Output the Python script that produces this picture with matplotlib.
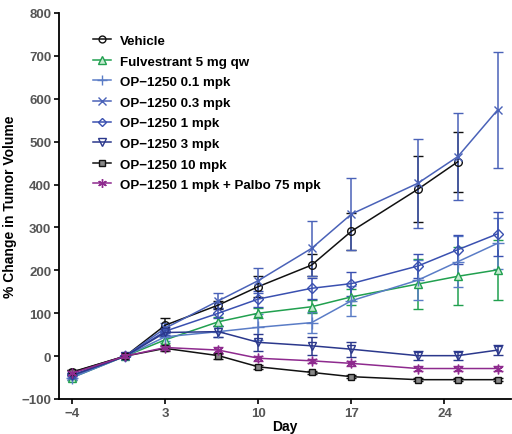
import matplotlib
matplotlib.use("Agg")
import matplotlib.pyplot as plt
from matplotlib.lines import Line2D

plt.rcParams['font.family'] = ['Liberation Sans', 'DejaVu Sans']

days = [-4, 0, 3, 7, 10, 14, 17, 22, 25, 28]

vehicle = [-37, 0, 72, 119, 162, 212, 291, 389, 453]
vehicle_err = [5, 0, 17, 10, 24, 25, 43, 77, 70]
fulv = [-50, 0, 38, 80, 100, 115, 138, 168, 186, 201]
fulv_err = [5, 0, 8, 10, 12, 15, 18, 58, 68, 70]
op01 = [-50, 0, 45, 57, 67, 78, 129, 177, 220, 263]
op01_err = [5, 0, 10, 12, 30, 25, 35, 47, 60, 60]
op03 = [-45, 0, 65, 129, 176, 251, 331, 403, 465, 574]
op03_err = [5, 0, 12, 18, 30, 64, 83, 104, 102, 135]
op1 = [-45, 0, 58, 100, 133, 158, 169, 210, 248, 285]
op1_err = [5, 0, 10, 12, 18, 25, 28, 29, 34, 51]
op3 = [-45, 0, 55, 57, 32, 24, 16, 1, 1, 14]
op3_err = [5, 0, 8, 12, 20, 21, 18, 10, 10, 12]
op10 = [-38, 0, 18, 1, -25, -38, -48, -55, -55, -55]
op10_err = [5, 0, 5, 7, 5, 4, 4, 3, 3, 3]
palbo = [-40, 0, 20, 14, -5, -11, -17, -29, -29, -29]
palbo_err = [5, 0, 6, 8, 6, 5, 5, 5, 5, 5]

labels = ["Vehicle", "Fulvestrant 5 mg qw", "OP\u22121250 0.1 mpk", "OP\u22121250 0.3 mpk",
          "OP\u22121250 1 mpk", "OP\u22121250 3 mpk", "OP\u22121250 10 mpk",
          "OP\u22121250 1 mpk + Palbo 75 mpk"]
xticks = [-4, 3, 10, 17, 24]
yticks = [-100, 0, 100, 200, 300, 400, 500, 600, 700, 800]

series = [
    (vehicle, vehicle_err, '#111111', 'o', 'none', 5.5),
    (fulv, fulv_err, '#21a04f', '^', '#c5ead0', 6),
    (op01, op01_err, '#5a7cc6', '+', 'none', 8),
    (op03, op03_err, '#4a62b8', 'x', 'none', 6),
    (op1, op1_err, '#3a50b0', 'D', 'none', 5),
    (op3, op3_err, '#2b388c', 'v', 'none', 6),
    (op10, op10_err, '#111111', 's', '#888888', 5),
    (palbo, palbo_err, '#8e2a8e', (6, 2, 0), 'none', 7),
]

fig = plt.figure(figsize=(5.12, 4.35), dpi=100)
ax = fig.add_axes([0.115, 0.0805, 0.883, 0.8875])

handles = []
for (vals, errs, col, mk, fc, ms), lab in zip(series, labels):
    d = days[:len(vals)]
    ax.errorbar(d, vals, yerr=errs, color=col, marker=mk, markerfacecolor=fc,
                markeredgecolor=col, markersize=ms, lw=1.1, elinewidth=1.1,
                capsize=3.5, capthick=1.1, markeredgewidth=1.0)
    if mk == 's':
        ax.plot(d, vals, linestyle='none', marker='x', color='#111111', markersize=3.5, mew=0.8)
    handles.append(Line2D([], [], color=col, marker=mk, markerfacecolor=fc,
                          markeredgecolor=col, markersize=ms * 0.9, lw=1.1))

ax.set_xlim(-5, 29)
ax.set_ylim(-100, 800)
ax.set_xticks(xticks)
ax.set_yticks(yticks)
ax.set_xticklabels([str(t) if t >= 0 else '\u2212' + str(-t) for t in xticks])
ax.set_yticklabels([str(t) if t >= 0 else '\u2212' + str(-t) for t in yticks])
ax.spines['top'].set_visible(False)
ax.spines['right'].set_visible(False)
for s in ['left', 'bottom']:
    ax.spines[s].set_linewidth(1.3)
ax.tick_params(axis='both', labelsize=9.5, labelcolor='#555555', width=1.2, length=3.5, pad=2)
for t in ax.get_xticklabels() + ax.get_yticklabels():
    t.set_fontweight('bold')
ax.set_xlabel('Day', fontsize=10, fontweight='bold', labelpad=0)
ax.set_ylabel('% Change in Tumor Volume', fontsize=10, fontweight='bold', labelpad=3)

ax.legend(handles, labels, loc='upper left', bbox_to_anchor=(0.05, 0.975), frameon=False,
          prop={'size': 9.6, 'weight': 'bold'}, handlelength=1.3, labelspacing=0.62,
          handletextpad=0.7)

fig.savefig('out.png', dpi=100)
